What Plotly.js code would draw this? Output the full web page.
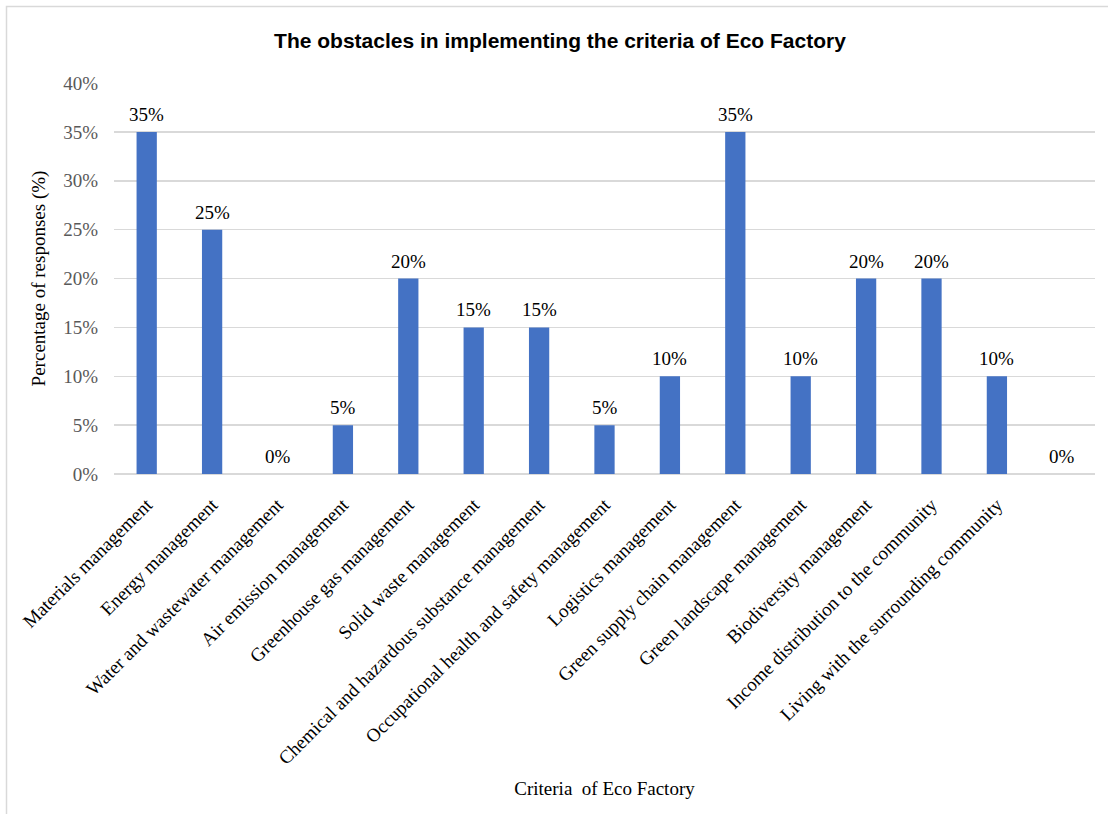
<!DOCTYPE html>
<html>
<head>
<meta charset="utf-8">
<script src="https://cdn.plot.ly/plotly-3.0.1.min.js"></script>
<style>
html,body{margin:0;padding:0;background:#fff;}
#chart{width:1108px;height:814px;}
</style>
</head>
<body>
<div id="chart"></div>
<script>
const categories = [
  "Materials management",
  "Energy management",
  "Water and wastewater management",
  "Air emission management",
  "Greenhouse gas management",
  "Solid waste management",
  "Chemical and hazardous substance management",
  "Occupational health and safety management",
  "Logistics management",
  "Green supply chain management",
  "Green landscape management",
  "Biodiversity management",
  "Income distribution to the community",
  "Living with the surrounding community",
  "Other"
];
const tickLabels = [
  "Materials management",
  "Energy management",
  "Water and wastewater management",
  "Air emission management",
  "Greenhouse gas management",
  "Solid waste management",
  "Chemical and hazardous substance management",
  "Occupational health and safety management",
  "Logistics management",
  "Green supply chain management",
  "Green landscape management",
  "Biodiversity management",
  "Income distribution to the community",
  "Living with the surrounding community",
  ""
];
const values = [0.35, 0.25, 0, 0.05, 0.20, 0.15, 0.15, 0.05, 0.10, 0.35, 0.10, 0.20, 0.20, 0.10, 0];
const yTicks = [0, 0.05, 0.10, 0.15, 0.20, 0.25, 0.30, 0.35, 0.40];

const serif = "Liberation Serif";
const sans = "Liberation Sans";

const L = 114, R = 1095, T = 83, B = 474, W = 1108, H = 814;
const pw = R - L, ph = B - T;

const trace = {
  type: 'bar',
  x: categories,
  y: values,
  marker: {color: '#4472C4'},
  hoverinfo: 'none'
};

const labelAnnotations = categories.map((c, i) => ({
  x: c, y: values[i], xref: 'x', yref: 'y',
  text: Math.round(values[i] * 100) + '%',
  showarrow: false,
  xanchor: 'center', yanchor: 'bottom',
  yshift: 5,
  font: {family: serif, size: 19, color: '#000'}
}));

const layout = {
  width: W, height: H,
  margin: {l: L, r: W - R, t: T, b: H - B, pad: 0},
  paper_bgcolor: '#fff',
  plot_bgcolor: '#fff',
  bargap: 0.69,
  showlegend: false,
  title: {
    text: '<b>The obstacles in implementing the criteria of Eco Factory</b>',
    font: {family: sans, size: 21, color: '#000'},
    x: (560) / W, xanchor: 'center', y: 1 - 41 / H, yanchor: 'middle'
  },
  xaxis: {
    type: 'category',
    tickmode: 'array',
    tickvals: categories,
    ticktext: tickLabels,
    tickangle: -45,
    tickfont: {family: serif, size: 19, color: '#000'},
    ticklabelstandoff: 15,
    showgrid: false,
    showline: false,
    ticks: '',
    title: {text: 'Criteria  of Eco Factory', font: {family: serif, size: 19, color: '#000'}, standoff: 14},
    automargin: false
  },
  yaxis: {
    range: [0, 0.4],
    tickmode: 'array',
    tickvals: yTicks,
    ticktext: yTicks.map(v => Math.round(v * 100) + '%'),
    tickfont: {family: serif, size: 19, color: '#595959'},
    ticklabelstandoff: 15,
    showgrid: true,
    gridcolor: '#D9D9D9',
    gridwidth: 1.5,
    zeroline: true,
    zerolinecolor: '#D9D9D9',
    zerolinewidth: 1.5,
    showline: false,
    ticks: '',
    title: {text: 'Percentage of responses (%)', font: {family: serif, size: 19, color: '#000'}, standoff: 12},
    automargin: false
  },
  annotations: labelAnnotations,
  shapes: [{
    type: 'rect', xref: 'paper', yref: 'paper',
    x0: (6.5 - L) / pw, x1: (W + 20 - L) / pw,
    y0: (B - (H + 20)) / ph, y1: (B - 6.5) / ph,
    line: {color: '#D9D9D9', width: 1.5},
    fillcolor: 'rgba(0,0,0,0)',
    layer: 'below'
  }]
};

Plotly.newPlot('chart', [trace], layout, {displayModeBar: false, staticPlot: true});
</script>
</body>
</html>
